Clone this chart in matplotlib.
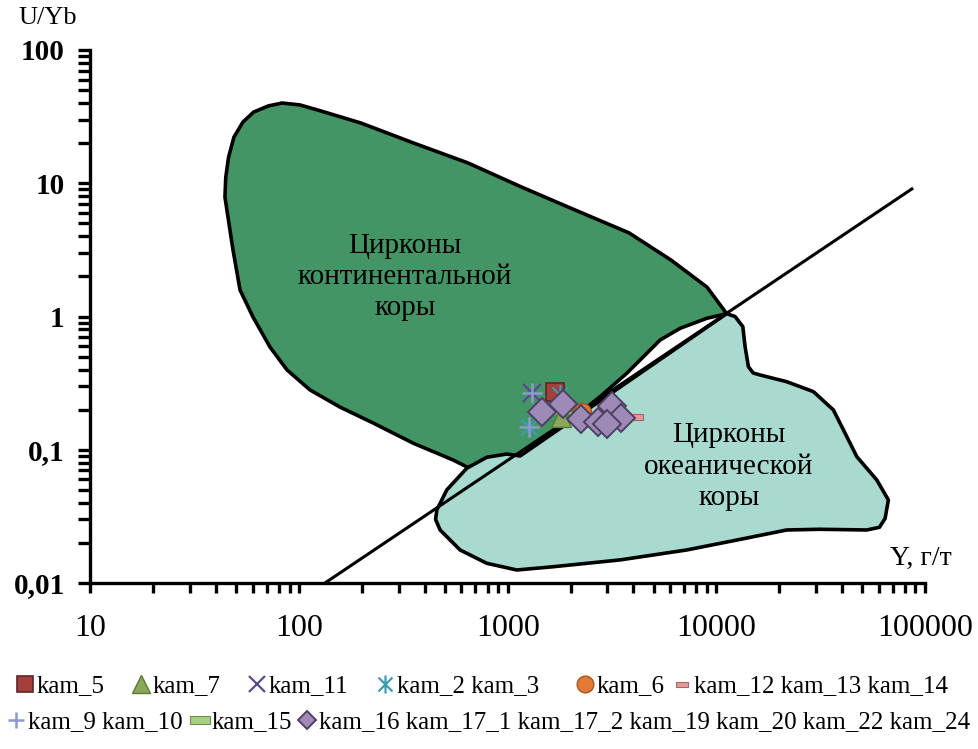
import matplotlib
matplotlib.use('Agg')
import matplotlib.pyplot as plt
from matplotlib.lines import Line2D
from matplotlib.path import Path
from matplotlib.ticker import FixedLocator, FixedFormatter, LogLocator, NullFormatter

plt.rcParams['font.family'] = ['Liberation Serif', 'DejaVu Serif']

# outline of the continental zircon field (Y, ppm ; U/Yb)
cont_y = [101, 127, 198, 355, 645, 1158, 2102, 3815, 6065, 9025, 11200,
          8995, 6699, 5373, 4467, 3720, 3208, 2770, 1146, 638,
          547, 352, 226, 157, 112.8, 87.5, 72.5, 60.1, 52.1, 48.2,
          44.1, 44.5, 45.9, 48.7, 53.8, 60.5, 71.0, 82.8]
cont_uyb = [38.7, 34.9, 28.3, 20.0, 14.2, 9.4, 6.3, 4.24, 2.65, 1.66, 1.05,
            0.969, 0.815, 0.666, 0.499, 0.375, 0.306, 0.25, 0.0838, 0.0742,
            0.0838, 0.112, 0.159, 0.209, 0.281, 0.397, 0.59, 0.991, 1.58, 3.16,
            7.88, 11.1, 15.7, 22.2, 28.8, 34.2, 38.0, 40.0]

# outline of the oceanic zircon field
ocean_y = [11200, 12290, 13390, 13730, 14240, 15000, 16200, 21750, 29170, 36380, 41400,
           47120, 58750, 66760, 64370, 60500, 52600, 31410, 21750, 12520, 7213, 3454,
           1654, 1105, 793, 591, 474, 451, 457, 510, 636, 793, 989, 1146]
ocean_uyb = [1.05, 1.0, 0.839, 0.593, 0.420, 0.377, 0.364, 0.324, 0.273, 0.199, 0.133,
             0.0887, 0.0593, 0.042, 0.0305, 0.0262, 0.025, 0.0253, 0.025, 0.021, 0.0177, 0.0149,
             0.01325, 0.01252, 0.01406, 0.0177, 0.025, 0.0300, 0.0353, 0.0499, 0.0726, 0.0878, 0.0929, 0.0898]

# discrimination line
line_y = [133, 87700]
line_uyb = [0.01, 9.2]

# samples
kam5_y, kam5_uyb = [1686], [0.273]
kam7_y, kam7_uyb = [1796], [0.177]
kam11_y, kam11_uyb = [1305], [0.265]
kam2_3_y, kam2_3_uyb = [1265, 1781], [0.148, 0.2575]
kam6_y, kam6_uyb = [2262], [0.193]
kam12_14_y, kam12_14_uyb = [4121], [0.175]
kam9_10_y, kam9_10_uyb = [1305, 1265], [0.265, 0.148]
kam15_y, kam15_uyb = [1781], [0.2]
kam16_24_y = [1455, 1847, 2246, 2719, 3162, 3492, 2992]
kam16_24_uyb = [0.193, 0.2205, 0.170, 0.1624, 0.213, 0.172, 0.156]

x_ticks = [10, 100, 1000, 10000, 100000]
x_labels = ['10', '100', '1000', '10000', '100000']
y_ticks = [0.01, 0.1, 1, 10, 100]
y_labels = ['0,01', '0,1', '1', '10', '100']

star = Path([(-1, -1), (1, 1), (-1, 1), (1, -1), (0, -1.3), (0, 1.3)],
            [Path.MOVETO, Path.LINETO, Path.MOVETO, Path.LINETO, Path.MOVETO, Path.LINETO])
dash = Path([(-1, -0.4), (1, -0.4), (1, 0.4), (-1, 0.4), (-1, -0.4)],
            [Path.MOVETO, Path.LINETO, Path.LINETO, Path.LINETO, Path.CLOSEPOLY])

fig = plt.figure(figsize=(9.79, 7.49), dpi=100)
ax = fig.add_axes([90.5 / 979, 1 - 583 / 749, (925 - 90.5) / 979, (583 - 50) / 749])
ax.set_xscale('log')
ax.set_yscale('log')

ax.fill(cont_y, cont_uyb, facecolor='#449565', edgecolor='black', linewidth=2.6, joinstyle='round', zorder=1)
ax.fill(ocean_y, ocean_uyb, facecolor='#a8dad0', edgecolor='black', linewidth=2.6, joinstyle='round', zorder=2)
ax.plot(line_y, line_uyb, color='black', linewidth=2.2, zorder=3, solid_capstyle='butt')

ax.text(322, 1.98, 'Цирконы\nконтинентальной\nкоры', ha='center', va='center',
        fontsize=21, linespacing=1.27, zorder=4)
ax.text(11500, 0.0746, 'Цирконы\nокеанической\nкоры', ha='center', va='center',
        fontsize=21, linespacing=1.27, zorder=4)

# (label, x, y, marker style, marker size in legend)
styles = [
    ('kam_5', kam5_y, kam5_uyb, dict(marker='s', ms=13, mfc='#a3403c', mec='#5e2624', mew=1.2), 12),
    ('kam_7', kam7_y, kam7_uyb, dict(marker='^', ms=14, mfc='#88a95a', mec='#5a7837', mew=1.0), 13),
    ('kam_11', kam11_y, kam11_uyb, dict(marker='x', ms=13, mec='#5a4a88', mew=1.6), 11),
    ('kam_2 kam_3', kam2_3_y, kam2_3_uyb, dict(marker=star, ms=15, mec='#3f9bb0', mew=1.6), 13),
    ('kam_6', kam6_y, kam6_uyb, dict(marker='o', ms=13, mfc='#e07a34', mec='#a85520', mew=1.0), 12),
    ('kam_12 kam_13 kam_14', kam12_14_y, kam12_14_uyb, dict(marker=dash, ms=10, mfc='#e39a98', mec='#a86664', mew=0.8), 9),
    ('kam_9 kam_10', kam9_10_y, kam9_10_uyb, dict(marker='+', ms=15, mec='#8a9ad0', mew=1.8), 12),
    ('kam_15', kam15_y, kam15_uyb, dict(marker=dash, ms=16, mfc='#a8cf80', mec='#6e8f50', mew=0.8), 14),
    ('kam_16 kam_17_1 kam_17_2 kam_19 kam_20 kam_22 kam_24', kam16_24_y, kam16_24_uyb,
     dict(marker='D', ms=14, mfc='#9e8ab6', mec='#4f4062', mew=1.4), 9),
]

handles = []
for i, (name, xs, ys, st, leg_ms) in enumerate(styles):
    ax.plot(xs, ys, linestyle='none', zorder=5 + i, **st)
    handles.append(Line2D([], [], linestyle='none', label=name, **dict(st, ms=leg_ms)))

ax.set_xlim(10, 100000)
ax.set_ylim(0.01, 100)
ax.xaxis.set_major_locator(FixedLocator(x_ticks))
ax.xaxis.set_major_formatter(FixedFormatter(x_labels))
ax.xaxis.set_minor_locator(LogLocator(base=10, subs=range(2, 10)))
ax.xaxis.set_minor_formatter(NullFormatter())
ax.yaxis.set_major_locator(FixedLocator(y_ticks))
ax.yaxis.set_major_formatter(FixedFormatter(y_labels))
ax.yaxis.set_minor_locator(LogLocator(base=10, subs=range(2, 10)))
ax.yaxis.set_minor_formatter(NullFormatter())

for side in ['top', 'right']:
    ax.spines[side].set_visible(False)
for side in ['left', 'bottom']:
    ax.spines[side].set_linewidth(2.4)
ax.tick_params(axis='x', which='major', direction='out', length=7.2, width=2.4, pad=15, labelsize=23)
ax.tick_params(axis='x', which='minor', direction='out', length=7.2, width=2.4)
ax.tick_params(axis='y', which='both', direction='out', length=8.6, width=2.4, pad=10, labelsize=21)
for lab in ax.get_yticklabels():
    lab.set_fontweight('bold')

fig.text(48 / 979, 1 - 18 / 749, 'U/Yb', ha='center', va='center', fontsize=19)
fig.text(952 / 979, 1 - 558 / 749, 'Y, г/т', ha='right', va='center', fontsize=20)

# legend entries laid out one by one (left edge of handle box, row centre) in pixels
leg_pos = [(15, 686), (131, 686), (247, 686), (375, 686), (575, 686), (672, 686),
           (6, 722), (190, 722), (297, 722)]
for h, (px, py) in zip(handles, leg_pos):
    fig.legend(handles=[h], loc='center left', bbox_to_anchor=(px / 979, 1 - py / 749),
               frameon=False, handlelength=0.8, handletextpad=0.08, borderaxespad=0,
               borderpad=0, fontsize=18)

fig.savefig('out.png', dpi=100)
